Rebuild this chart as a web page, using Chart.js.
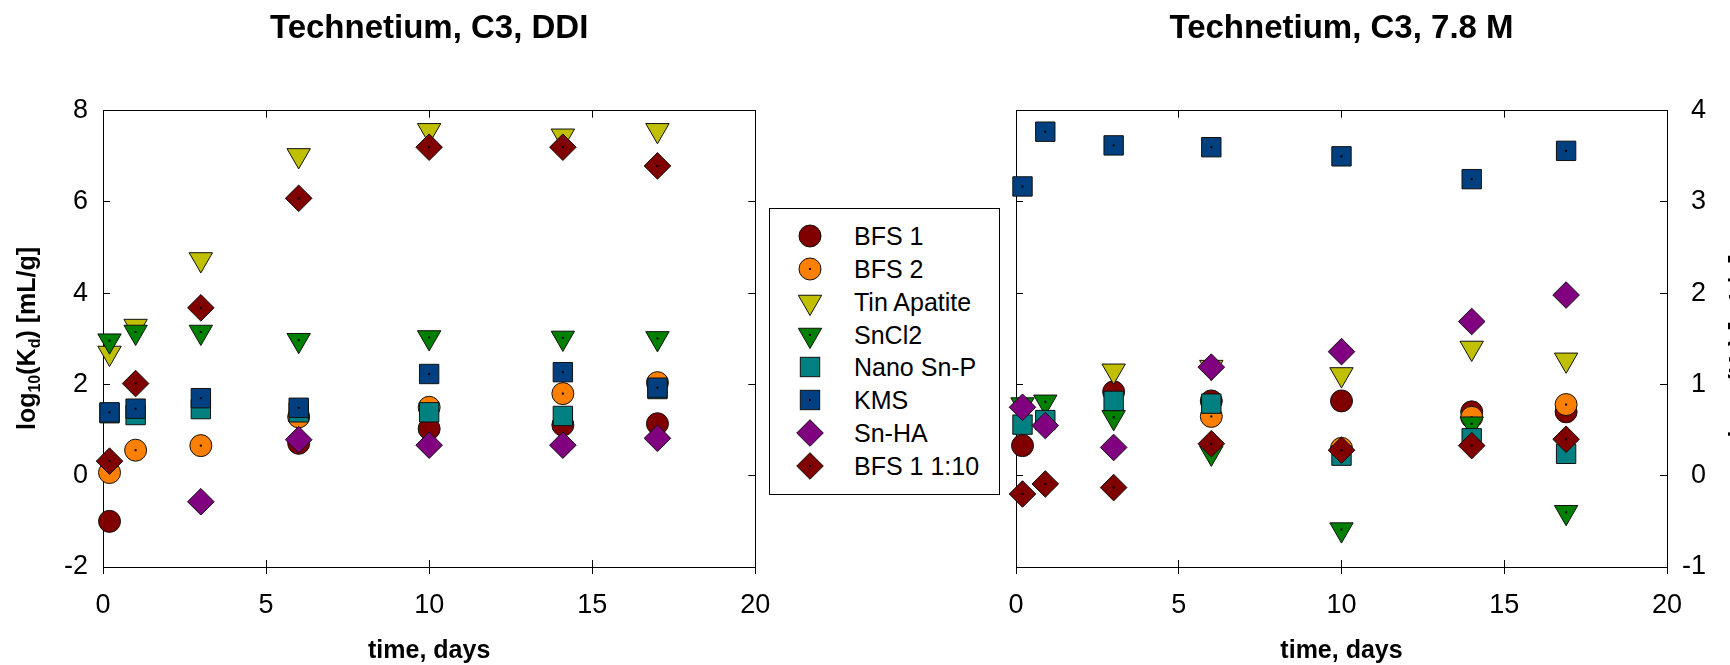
<!DOCTYPE html>
<html>
<head>
<meta charset="utf-8">
<script src="https://cdn.jsdelivr.net/npm/chart.js@4.4.0/dist/chart.umd.min.js"></script>
<style>
  html, body { margin: 0; padding: 0; background: #fff; }
  body { width: 1730px; height: 665px; position: relative; overflow: hidden; font-family: "Liberation Sans", Arial, sans-serif; }
  canvas { position: absolute; top: 0; }
  #chartDDI { left: 0; }
  #chart78 { left: 960px; }
  #legend { position: absolute; left: 769px; top: 208px; width: 231px; height: 287px; border: 1px solid #000; box-sizing: border-box; background: #fff; }
  #legend .row { position: absolute; left: 0; width: 100%; height: 32px; }
  #legend svg { position: absolute; left: 25px; top: 0; }
  #legend span { position: absolute; left: 84px; top: 0; line-height: 32px; font-size: 25px; color: #000; white-space: nowrap; }
</style>
</head>
<body>
<canvas id="chartDDI" width="770" height="665"></canvas>
<canvas id="chart78" width="770" height="665"></canvas>
<div id="legend"></div>
<script>
var seriesNames = ["BFS 1", "BFS 2", "Tin Apatite", "SnCl2", "Nano Sn-P", "KMS", "Sn-HA", "BFS 1 1:10"];

// tick labels
var xTicks = [0, 5, 10, 15, 20];
var yTicksDDI = [-2, 0, 2, 4, 6, 8];
var yTicks78 = [-1, 0, 1, 2, 3, 4];

// Technetium, C3, DDI   (log10 Kd)
var daysDDI   = [0.2, 1, 3, 6, 10, 14.1, 17];
var bfs1DDI   = [-1.0, null, null, 0.71, 1.03, 1.11, 1.14];
var bfs2DDI   = [0.07, 0.56, 0.66, 1.29, 1.50, 1.80, 2.04];
var tinApDDI  = [2.69, 3.28, 4.74, 7.02, 7.57, 7.45, 7.57];
var sncl2DDI  = [2.96, 3.15, 3.15, 2.97, 3.03, 3.02, 3.01];
var nanoDDI   = [1.37, 1.33, 1.46, 1.39, 1.39, 1.31, 1.90];
var kmsDDI    = [1.39, 1.47, 1.70, 1.49, 2.23, 2.27, 1.93];
var snhaDDI   = [null, null, -0.57, 0.79, 0.67, 0.67, 0.82];
var bfs110DDI = [0.32, 2.02, 3.68, 6.08, 7.20, 7.20, 6.79];

// Technetium, C3, 7.8 M
var days78    = [0.2, 0.9, 3, 6, 10, 14, 16.9];
var bfs1_78   = [0.33, null, 0.92, 0.82, 0.82, 0.70, 0.70];
var bfs2_78   = [null, null, null, 0.65, 0.30, 0.64, 0.78];
var tinAp78   = [null, null, 1.15, 1.19, 1.11, 1.40, 1.27];
var sncl2_78  = [0.78, 0.81, 0.64, 0.25, -0.59, 0.57, -0.40];
var nano78    = [0.56, 0.61, 0.82, 0.79, 0.22, 0.41, 0.24];
var kms78     = [3.17, 3.77, 3.62, 3.60, 3.50, 3.25, 3.56];
var snha78    = [0.75, 0.55, 0.31, 1.19, 1.36, 1.69, 1.98];
var bfs110_78 = [-0.20, -0.09, -0.13, 0.35, 0.28, 0.33, 0.40];

var markerStyle = [
  {shape: "circle",   fill: "#800000", dot: false},
  {shape: "circle",   fill: "#ff8000", dot: true},
  {shape: "triangle", fill: "#c0c000", dot: false},
  {shape: "triangle", fill: "#008000", dot: true},
  {shape: "rect",     fill: "#008080", dot: false},
  {shape: "rect",     fill: "#004080", dot: true},
  {shape: "rectRot",  fill: "#800080", dot: false},
  {shape: "rectRot",  fill: "#800000", dot: true}
];
var radiusFor = {circle: 11, triangle: 13.5, rect: 13.7, rectRot: 13.3};

var FONT = "'Liberation Sans', Arial, sans-serif";
Chart.defaults.font.family = FONT;
Chart.defaults.color = "#000";

function makeSets(days, cols) {
  return cols.map(function(vals, i) {
    var st = markerStyle[i];
    var pts = [];
    vals.forEach(function(v, j) { if (v !== null) pts.push({x: days[j], y: v}); });
    return {
      label: seriesNames[i],
      data: pts,
      order: cols.length - i,
      pointStyle: st.shape,
      pointRadius: radiusFor[st.shape],
      pointHoverRadius: radiusFor[st.shape],
      pointRotation: st.shape == "triangle" ? 180 : 0,
      backgroundColor: st.fill,
      borderColor: "#111",
      pointBorderWidth: 1,
      showLine: false,
      clip: false,
      centerDot: st.dot
    };
  });
}

function useTicks(list) {
  return function(scale) { scale.ticks = list.map(function(v) { return {value: v}; }); };
}

// small black dot in the middle of some markers
var centerDots = {
  id: "centerDots",
  afterDatasetDraw: function(chart, args) {
    var ds = chart.data.datasets[args.index];
    if (!ds.centerDot) return;
    var ctx = chart.ctx;
    ctx.save();
    ctx.fillStyle = "#000";
    args.meta.data.forEach(function(p) { ctx.fillRect(p.x - 1, p.y - 1, 2, 2); });
    ctx.restore();
  }
};

function drawKdTitle(ctx, x, y) {
  var parts = [["log", 0], ["10", 1], ["(K", 0], ["d", 1], [") [mL/g]", 0]];
  var big = "bold 25px " + FONT, small = "bold 16px " + FONT;
  ctx.save();
  ctx.translate(x, y);
  ctx.rotate(-Math.PI / 2);
  ctx.textAlign = "left";
  ctx.textBaseline = "alphabetic";
  ctx.fillStyle = "#000";
  var total = 0;
  parts.forEach(function(p) { ctx.font = p[1] ? small : big; total += ctx.measureText(p[0]).width; });
  var cx = -total / 2;
  parts.forEach(function(p) {
    ctx.font = p[1] ? small : big;
    ctx.fillText(p[0], cx, p[1] ? 5 : 0);
    cx += ctx.measureText(p[0]).width;
  });
  ctx.restore();
}

var panelText = {
  id: "panelText",
  afterDraw: function(chart, args, opts) {
    var ctx = chart.ctx, ca = chart.chartArea;
    ctx.save();
    ctx.fillStyle = "#000";
    ctx.font = "bold 33px " + FONT;
    ctx.textAlign = "center";
    ctx.textBaseline = "middle";
    ctx.fillText(opts.title, (ca.left + ca.right) / 2, 29);
    ctx.restore();
    drawKdTitle(ctx, opts.yTitleX, opts.yTitleY);
  }
};

function innerTicks(pos, range, list, weight) {
  var s = {
    type: "linear", position: pos, min: range[0], max: range[1], weight: weight || 0,
    afterBuildTicks: useTicks(list),
    ticks: {display: false},
    grid: {drawOnChartArea: false, tickLength: -7, color: "#000", lineWidth: 1},
    border: {display: true, color: "#000", width: 1}
  };
  if (pos == "top" || pos == "bottom") {
    s.afterFit = function(sc) { sc.height = 0; sc.paddingLeft = 0; sc.paddingRight = 0; };
  } else {
    s.afterFit = function(sc) { sc.width = 0; sc.paddingTop = 0; sc.paddingBottom = 0; };
  }
  return s;
}

function xAxis() {
  return {
    type: "linear", position: "bottom", min: 0, max: 20, weight: 1,
    afterBuildTicks: useTicks(xTicks),
    afterFit: function(sc) { sc.height = 98; sc.paddingLeft = 0; sc.paddingRight = 0; },
    ticks: {font: {size: 27}, color: "#000", padding: 15, maxRotation: 0, autoSkip: false},
    grid: {drawOnChartArea: false, tickLength: 7, color: "#000", lineWidth: 1},
    border: {display: true, color: "#000", width: 1},
    title: {display: true, text: "time, days", color: "#000",
            font: {size: 25, weight: "bold", lineHeight: 1}, padding: {top: 0, bottom: 1}}
  };
}

function yAxis(pos, range, list, width, tickOpts) {
  return {
    type: "linear", position: pos, min: range[0], max: range[1],
    afterBuildTicks: useTicks(list),
    afterFit: function(sc) { sc.width = width; sc.paddingTop = 0; sc.paddingBottom = 0; },
    ticks: Object.assign({font: {size: 27}, color: "#000"}, tickOpts),
    grid: {drawOnChartArea: false, tickLength: -7, color: "#000", lineWidth: 1},
    border: {display: true, color: "#000", width: 1}
  };
}

// left panel
var xInL = innerTicks("bottom", [0, 20], xTicks, 0);
xInL.border = {display: false};
new Chart("chartDDI", {
  type: "scatter",
  data: {datasets: makeSets(daysDDI, [bfs1DDI, bfs2DDI, tinApDDI, sncl2DDI, nanoDDI, kmsDDI, snhaDDI, bfs110DDI])},
  options: {
    responsive: false,
    animation: false,
    events: [],
    layout: {padding: {top: 110.7, right: 14.3, left: 0, bottom: 0}},
    plugins: {legend: {display: false}, tooltip: {enabled: false},
              panelText: {title: "Technetium, C3, DDI", yTitleX: 35, yTitleY: 338.5}},
    scales: {
      x: xAxis(),
      xIn: xInL,
      xTop: innerTicks("top", [0, 20], xTicks),
      y: yAxis("left", [-2, 8], yTicksDDI, 103, {padding: 22}),
      yRight: innerTicks("right", [-2, 8], yTicksDDI)
    }
  },
  plugins: [centerDots, panelText]
});

// right panel
var xInR = innerTicks("bottom", [0, 20], xTicks, 0);
xInR.border = {display: false};
var yLeftR = innerTicks("left", [-1, 4], yTicks78);
yLeftR.afterFit = function(sc) { sc.width = 56; sc.paddingTop = 0; sc.paddingBottom = 0; };
new Chart("chart78", {
  type: "scatter",
  data: {datasets: makeSets(days78, [bfs1_78, bfs2_78, tinAp78, sncl2_78, nano78, kms78, snha78, bfs110_78])},
  options: {
    responsive: false,
    animation: false,
    events: [],
    layout: {padding: {top: 110.7, right: 24, left: 0, bottom: 0}},
    plugins: {legend: {display: false}, tooltip: {enabled: false},
              panelText: {title: "Technetium, C3, 7.8 M", yTitleX: 787, yTitleY: 346}},
    scales: {
      x: xAxis(),
      xIn: xInR,
      xTop: innerTicks("top", [0, 20], xTicks),
      y: yLeftR,
      yR: yAxis("right", [-1, 4], yTicks78, 39, {crossAlign: "far"})
    }
  },
  plugins: [centerDots, panelText]
});

// legend box between the panels
function markerSvg(st) {
  var c = 15, m = 16, r = radiusFor[st.shape], shape;
  if (st.shape == "circle") {
    shape = '<circle cx="' + c + '" cy="' + m + '" r="' + r + '"';
  } else if (st.shape == "triangle") {
    var s = r * Math.sin(Math.PI / 3), h = r / 2;
    shape = '<polygon points="' + c + ',' + (m + r) + ' ' + (c - s) + ',' + (m - h) + ' ' + (c + s) + ',' + (m - h) + '"';
  } else if (st.shape == "rect") {
    var a = r * Math.SQRT1_2;
    shape = '<rect x="' + (c - a) + '" y="' + (m - a) + '" width="' + 2 * a + '" height="' + 2 * a + '"';
  } else {
    shape = '<polygon points="' + c + ',' + (m - r) + ' ' + (c + r) + ',' + m + ' ' + c + ',' + (m + r) + ' ' + (c - r) + ',' + m + '"';
  }
  shape += ' fill="' + st.fill + '" stroke="#111" stroke-width="1"/>';
  var dot = st.dot ? '<rect x="' + (c - 1) + '" y="' + (m - 1) + '" width="2" height="2" fill="#000"/>' : '';
  return '<svg width="30" height="32" viewBox="0 0 30 32">' + shape + dot + '</svg>';
}

var legendBox = document.getElementById("legend");
seriesNames.forEach(function(name, i) {
  var row = document.createElement("div");
  row.className = "row";
  row.style.top = (27.4 + i * 32.76 - 16) + "px";
  row.innerHTML = markerSvg(markerStyle[i]) + "<span>" + name + "</span>";
  legendBox.appendChild(row);
});
</script>
</body>
</html>
